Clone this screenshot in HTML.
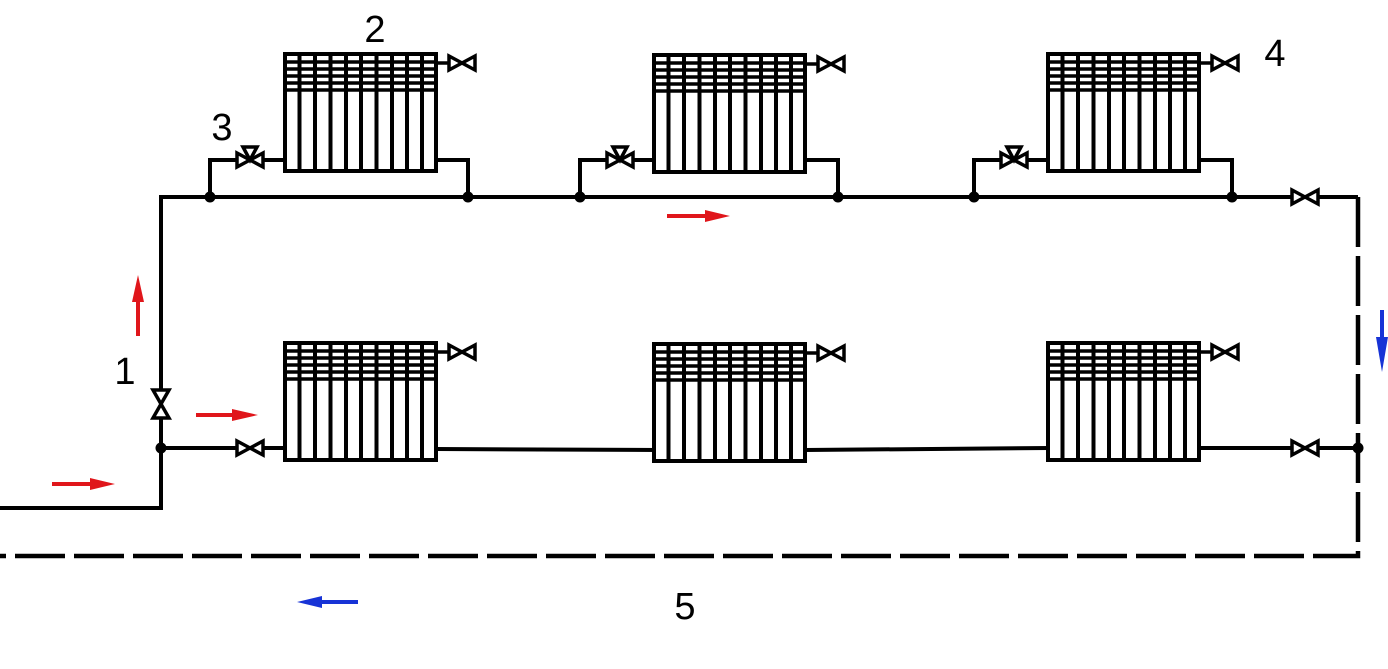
<!DOCTYPE html>
<html><head><style>html,body{margin:0;padding:0;background:#fff;}svg{display:block}</style></head>
<body>
<svg width="1388" height="669" viewBox="0 0 1388 669" xmlns="http://www.w3.org/2000/svg">
<defs>
<g id="rad">
  <rect x="2" y="2" width="151" height="117" fill="#fff" stroke="#000" stroke-width="4"/>
  <g stroke="#000" stroke-width="4">
    <line x1="16.5" y1="1" x2="16.5" y2="120"/><line x1="32" y1="1" x2="32" y2="120"/>
    <line x1="47.5" y1="1" x2="47.5" y2="120"/><line x1="63" y1="1" x2="63" y2="120"/>
    <line x1="78" y1="1" x2="78" y2="120"/><line x1="93.5" y1="1" x2="93.5" y2="120"/>
    <line x1="109" y1="1" x2="109" y2="120"/><line x1="124" y1="1" x2="124" y2="120"/>
    <line x1="139" y1="1" x2="139" y2="120"/>
  </g>
  <g stroke="#000" stroke-width="3.5">
    <line x1="1" y1="10" x2="154" y2="10"/><line x1="1" y1="17" x2="154" y2="17"/>
    <line x1="1" y1="24" x2="154" y2="24"/><line x1="1" y1="31" x2="154" y2="31"/>
    <line x1="1" y1="38" x2="154" y2="38"/>
  </g>
  <line x1="154" y1="11" x2="166" y2="11" stroke="#000" stroke-width="3.5"/>
  <path d="M166,4 L192,18 L192,4 L166,18 Z" fill="none" stroke="#000" stroke-width="3.5" stroke-linejoin="miter"/>
</g>
<g id="vh"><path d="M-13,-7 L13,7 L13,-7 L-13,7 Z" fill="#fff" stroke="#000" stroke-width="3.5"/></g>
<g id="v3"><path d="M-13,-7 L13,7 L13,-7 L-13,7 Z" fill="#fff" stroke="#000" stroke-width="3.5"/><path d="M0,0 L-7,-13 L7,-13 Z" fill="#fff" stroke="#000" stroke-width="3.5"/></g>
</defs>
<g stroke="#000" stroke-width="4" fill="none">
  <polyline points="0,508 161,508 161,197 1358,197"/>
  <line x1="161" y1="448" x2="290" y2="448"/>
  <line x1="436" y1="449" x2="660" y2="450"/>
  <line x1="805" y1="450" x2="1050" y2="448"/>
  <line x1="1200" y1="448" x2="1358" y2="448"/>
  <polyline points="210,197 210,160 290,160"/><polyline points="436,160 468,160 468,197"/>
  <polyline points="580,197 580,160 660,160"/><polyline points="805,160 838,160 838,197"/>
  <polyline points="974,197 974,160 1050,160"/><polyline points="1200,160 1232,160 1232,197"/>
</g>
<g stroke="#000" stroke-width="4.5" fill="none" stroke-dasharray="50,9">
  <polyline points="1358,197 1358,556 0,556"/>
</g>
<use href="#rad" x="283" y="52"/><use href="#rad" x="652" y="53"/><use href="#rad" x="1046" y="52"/>
<use href="#rad" x="283" y="341"/><use href="#rad" x="652" y="342"/><use href="#rad" x="1046" y="341"/>
<use href="#v3" x="250" y="160"/><use href="#v3" x="620" y="160"/><use href="#v3" x="1014" y="160"/>
<use href="#vh" x="1305" y="197"/><use href="#vh" x="1305" y="448"/><use href="#vh" x="250" y="448"/>
<path d="M153,390 L169,418 L153,418 L169,390 Z" fill="#fff" stroke="#000" stroke-width="3.5"/>
<g fill="#000">
  <circle cx="161" cy="448" r="5.5"/><circle cx="210" cy="197" r="5.5"/><circle cx="468" cy="197" r="5.5"/>
  <circle cx="580" cy="197" r="5.5"/><circle cx="838" cy="197" r="5.5"/><circle cx="974" cy="197" r="5.5"/>
  <circle cx="1232" cy="197" r="5.5"/><circle cx="1358" cy="448" r="5.5"/>
</g>
<g fill="#e0161b">
  <path d="M136,336 L136,302 L132,302 L138,275 L144,302 L140,302 L140,336 Z"/>
  <path d="M196,413 L232,413 L232,409 L258,415 L232,421 L232,417 L196,417 Z"/>
  <path d="M52,482 L90,482 L90,478 L115,484 L90,490 L90,486 L52,486 Z"/>
  <path d="M667,214 L705,214 L705,210 L730,216 L705,222 L705,218 L667,218 Z"/>
</g>
<g fill="#1733d6">
  <path d="M1380,310 L1384,310 L1384,337 L1388,337 L1382,372 L1376,337 L1380,337 Z"/>
  <path d="M358,600 L322,600 L322,596 L297,602 L322,608 L322,604 L358,604 Z"/>
</g>
<g font-family="Liberation Sans, sans-serif" font-size="38" fill="#000" text-anchor="middle">
  <text x="375" y="42">2</text><text x="222" y="140">3</text><text x="1275" y="66">4</text>
  <text x="125" y="384">1</text><text x="685" y="619">5</text>
</g>
</svg>
</body></html>
